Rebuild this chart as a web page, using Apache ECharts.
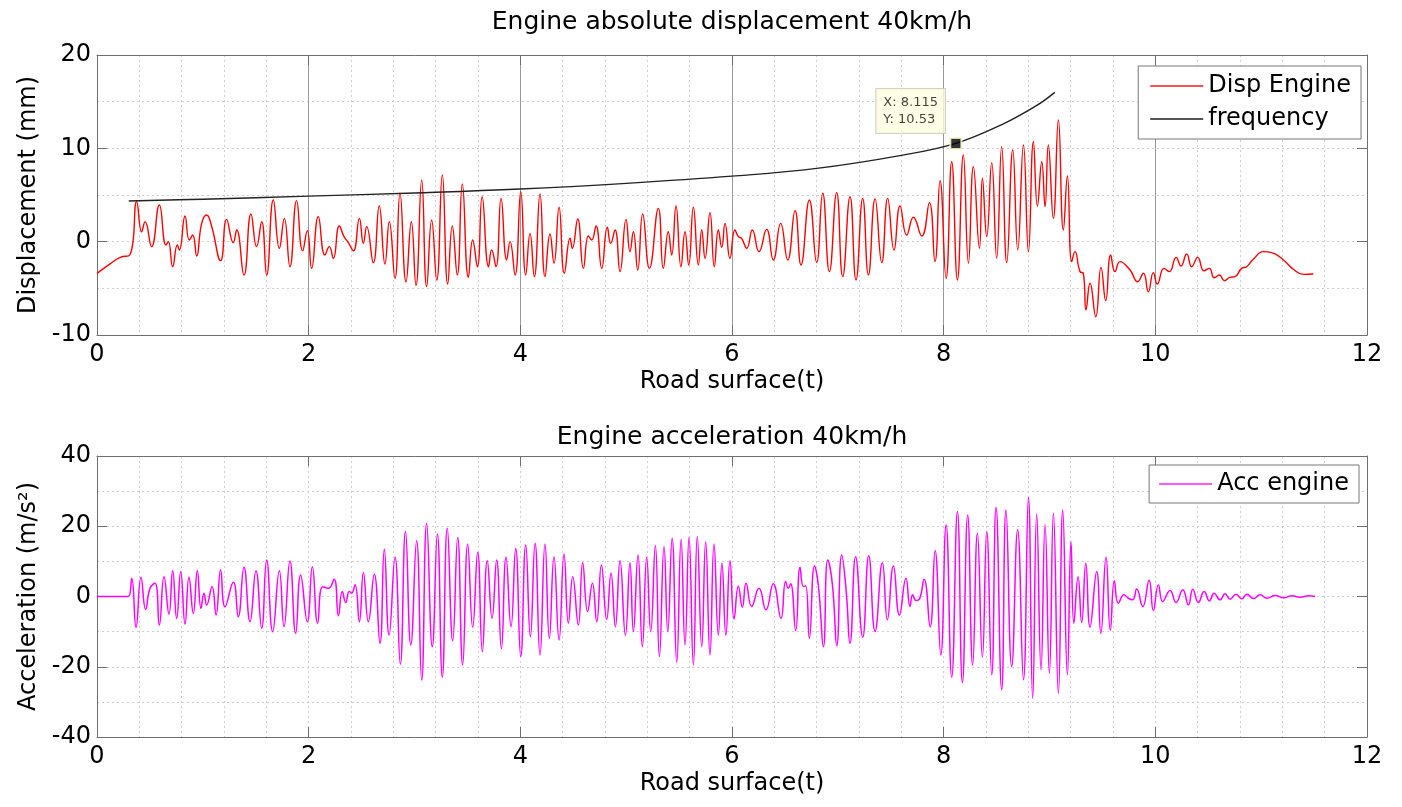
<!DOCTYPE html>
<html><head><meta charset="utf-8">
<script src="https://cdn.jsdelivr.net/npm/echarts@6/dist/echarts.min.js"></script>
<style>html,body{margin:0;padding:0;background:#fff}#c{width:1402px;height:807px}</style>
</head><body><div id="c"></div>
<script>
// ---------- DATA ----------
const topTitle = 'Engine absolute displacement 40km/h';
const bottomTitle = 'Engine acceleration 40km/h';
const xName = 'Road surface(t)';
const topYName = 'Displacement (mm)';
const bottomYName = 'Acceleration (m/s\u00B2)';
const xRange = [0, 12, 2];          // min, max, interval
const topYRange = [-10, 20, 10];
const bottomYRange = [-40, 40, 20];
const tipPoint = [8.115, 10.53];
const tipText = ['X: 8.115', 'Y: 10.53'];

const dispEngine = [[0,-3.4],[0.12,-2.4],[0.22,-1.68],[0.31,-1.43],[0.375,4.29],[0.422,1.07],[0.454,2.14],[0.516,-0.53],[0.589,3.93],[0.652,-0.36],[0.674,0],[0.715,-2.68],[0.759,-0.36],[0.778,-0.89],[0.832,2.75],[0.872,0.18],[0.904,0.71],[0.942,-1.53],[0.989,1.96],[1.036,2.86],[1.08,1.79],[1.168,-2.03],[1.225,2.39],[1.288,-0.1],[1.32,1.25],[1.389,-3.57],[1.455,2.97],[1.508,-0.53],[1.556,2.14],[1.603,-3.57],[1.666,4.47],[1.723,-0.71],[1.77,2.5],[1.823,-2.68],[1.886,4.4],[1.943,-0.98],[1.987,1.18],[2.028,-2.86],[2.091,2.68],[2.154,-1.43],[2.195,-0.53],[2.233,-1.79],[2.29,1.68],[2.334,0.54],[2.375,-0.1],[2.422,-0.98],[2.479,2.5],[2.517,-0.18],[2.548,1.61],[2.611,-2.25],[2.667,3.82],[2.721,-2.39],[2.762,2.14],[2.816,-3.93],[2.863,5.2],[2.92,-4.3],[2.97,2.14],[3.014,-4.7],[3.068,6.61],[3.115,-4.82],[3.162,2.32],[3.21,-4.11],[3.263,7.15],[3.314,-4.54],[3.357,1.68],[3.404,-3.57],[3.452,6.18],[3.509,-3.82],[3.55,0.18],[3.594,-2.68],[3.639,4.82],[3.7,-2.68],[3.729,-0.89],[3.77,-2.68],[3.818,4.64],[3.871,-1.96],[3.903,0],[3.95,-3.57],[4.004,5.36],[4.051,-3.57],[4.092,0.89],[4.132,-3.75],[4.186,5.1],[4.233,-3.75],[4.28,0.82],[4.318,-2.32],[4.366,3.68],[4.416,-3.39],[4.47,0.36],[4.491,-0.71],[4.542,2.43],[4.596,-2.86],[4.643,0.61],[4.674,0.18],[4.715,1.68],[4.769,-2.86],[4.822,1.54],[4.854,-0.18],[4.895,1.25],[4.942,-3.21],[4.999,2.39],[5.036,-1.07],[5.068,1.07],[5.109,-3.04],[5.156,2.96],[5.22,-2.86],[5.304,3.57],[5.351,-2.86],[5.398,1.07],[5.43,-1.43],[5.471,3.82],[5.518,-2.68],[5.556,1.07],[5.591,-2.5],[5.635,3.68],[5.682,-2.5],[5.714,1.25],[5.745,-1.79],[5.792,3.11],[5.833,-2.68],[5.871,1.25],[5.903,-0.6],[5.934,1.96],[5.981,-1.79],[6.028,1.25],[6.06,0.54],[6.091,0.36],[6.139,-0.71],[6.192,1.25],[6.255,-1.07],[6.327,1.32],[6.39,-1.96],[6.46,1.96],[6.526,-1.96],[6.596,3.32],[6.652,-2.5],[6.731,4.47],[6.8,-2.25],[6.857,5.18],[6.92,-3.21],[6.989,5.25],[7.046,-3.75],[7.115,4.82],[7.172,-4.1],[7.235,4.64],[7.289,-3.57],[7.352,4.57],[7.415,-2.25],[7.471,4.64],[7.531,-0.89],[7.588,3.82],[7.651,0.71],[7.714,2.61],[7.793,0.61],[7.865,4.18],[7.918,-2.14],[7.966,6.54],[8.023,-3.93],[8.076,8.57],[8.13,-4.1],[8.186,9.29],[8.234,-2.32],[8.281,8.04],[8.338,-0.71],[8.366,6.79],[8.407,0.54],[8.454,8.47],[8.501,-1.79],[8.548,10.18],[8.596,-2.25],[8.653,9.82],[8.7,-0.89],[8.754,10.36],[8.801,-1.07],[8.848,10.7],[8.886,3.82],[8.927,8.57],[8.958,3.75],[8.989,10.36],[9.036,2.5],[9.084,13.04],[9.131,1.25],[9.169,7.04],[9.21,-2.14],[9.241,-1.07],[9.288,-3.21],[9.32,-3.39],[9.345,-7.32],[9.383,-4.46],[9.437,-8.04],[9.487,-2.75],[9.531,-6.32],[9.578,-1.43],[9.619,-3.21],[9.666,-2.14],[9.761,-3.04],[9.833,-4.29],[9.887,-3.39],[9.934,-5.36],[9.981,-3.32],[10.019,-4.54],[10.082,-2.86],[10.133,-3.21],[10.196,-1.68],[10.243,-2.61],[10.296,-1.32],[10.344,-2.68],[10.4,-1.68],[10.46,-3.11],[10.51,-2.86],[10.557,-3.86],[10.605,-3.57],[10.652,-4.18],[10.705,-3.82],[10.752,-3.75],[10.815,-2.86],[10.863,-2.68],[10.926,-1.89],[11.021,-1.07],[11.1,-1.18],[11.21,-1.96],[11.304,-2.96],[11.399,-3.5],[11.493,-3.46]];

const frequency = [[0.3,4.36],[1,4.55],[2,4.88],[3,5.22],[4,5.64],[5,6.25],[6,7.02],[6.8,7.85],[7.6,9.25],[8.115,10.53],[8.56,12.6],[8.88,14.6],[9.05,16.0]];

const accEngine = [[0,0],[0.296,0],[0.328,5.18],[0.369,-8.78],[0.416,5.46],[0.46,-3.66],[0.501,2.34],[0.548,3.76],[0.589,-8.12],[0.633,5.65],[0.68,-4.99],[0.715,7.36],[0.753,-6.23],[0.791,7.08],[0.832,-7.84],[0.869,5.46],[0.91,-4.8],[0.948,7.36],[0.983,-3.38],[1.011,0.89],[1.036,-2.44],[1.087,2.8],[1.125,-5.27],[1.168,7.55],[1.21,-2.91],[1.288,4.04],[1.335,-5.74],[1.389,8.3],[1.446,-7.17],[1.502,7.36],[1.556,-9.06],[1.603,10.4],[1.66,-10.01],[1.723,7.36],[1.767,-8.59],[1.823,10.1],[1.877,-10.48],[1.924,6.13],[1.987,-7.17],[2.035,8.49],[2.085,-7.64],[2.132,2.8],[2.186,2.34],[2.24,4.9],[2.281,-5.46],[2.318,1.42],[2.35,-1.71],[2.384,1.42],[2.406,0.95],[2.438,3.32],[2.479,-7.17],[2.517,6.79],[2.564,-7.17],[2.62,6.32],[2.674,-13.34],[2.715,13.44],[2.76,-10.96],[2.816,11.16],[2.866,-19.3],[2.915,18.47],[2.965,-13.8],[3.02,15.9],[3.068,-23.8],[3.115,20.85],[3.168,-14.3],[3.216,17.8],[3.263,-23.0],[3.31,19.4],[3.361,-12.6],[3.408,16.8],[3.455,-19.5],[3.503,14.9],[3.55,-8.78],[3.597,12.58],[3.641,-15.7],[3.688,10.2],[3.733,-6.2],[3.776,10.4],[3.821,-14.9],[3.865,11.16],[3.912,-8.6],[3.956,13.7],[4.004,-17.1],[4.051,14.67],[4.095,-11.45],[4.139,15.15],[4.186,-16.67],[4.233,14.96],[4.274,-11.9],[4.318,11.35],[4.366,-12.4],[4.413,12.1],[4.454,-7.6],[4.495,5.65],[4.548,-8.1],[4.589,9.64],[4.636,-4.3],[4.681,3.8],[4.722,-7.17],[4.766,8.97],[4.816,-6.5],[4.857,6.6],[4.898,-8.6],[4.942,10.2],[4.993,-11.0],[5.036,9.64],[5.068,-10.0],[5.112,11.8],[5.153,-14.3],[5.194,11.16],[5.232,-10.0],[5.276,14.5],[5.314,-17.1],[5.358,14.2],[5.393,-10.0],[5.434,16.57],[5.478,-18.8],[5.519,16.3],[5.556,-13.8],[5.594,16.8],[5.635,-19.5],[5.672,17.05],[5.714,-14.3],[5.751,15.6],[5.792,-16.67],[5.83,14.96],[5.871,-11.0],[5.905,9.5],[5.942,-11.0],[5.981,10.2],[6.02,-6.4],[6.06,2.9],[6.098,-3.04],[6.133,3.8],[6.186,-2.85],[6.255,2.37],[6.321,-3.8],[6.39,3.6],[6.463,-6.2],[6.507,4.3],[6.532,2.37],[6.554,3.6],[6.602,-9.7],[6.643,8.3],[6.675,2.85],[6.697,3.0],[6.731,-11.9],[6.78,8.68],[6.817,2.85],[6.864,-14.3],[6.905,10.4],[6.949,3.3],[6.99,-14.0],[7.037,11.8],[7.078,1.9],[7.115,-13.34],[7.168,11.35],[7.235,-11.6],[7.292,11.6],[7.352,-9.97],[7.421,9.64],[7.468,-6.6],[7.525,8.68],[7.582,-5.3],[7.644,5.22],[7.682,-2.85],[7.707,0.47],[7.739,-1.14],[7.771,-0.76],[7.815,4.9],[7.872,-8.6],[7.919,13.05],[7.973,-16.6],[8.023,20.38],[8.076,-23.0],[8.13,24.2],[8.177,-24.5],[8.227,23.2],[8.274,-19.5],[8.319,18.0],[8.366,-17.3],[8.407,18.47],[8.454,-22.3],[8.495,25.4],[8.548,-26.6],[8.589,24.6],[8.643,-19.9],[8.699,19.0],[8.754,-23.7],[8.801,28.2],[8.841,-29.0],[8.879,23.5],[8.92,-20.9],[8.958,20.4],[8.999,-21.9],[9.037,23.7],[9.084,-27.6],[9.125,24.6],[9.169,-22.3],[9.203,15.6],[9.23,-7.6],[9.27,5.6],[9.304,-7.4],[9.343,9.5],[9.383,-8.7],[9.446,7.1],[9.485,-10.5],[9.534,11.2],[9.575,-9.6],[9.613,4.5],[9.651,-1.9],[9.704,0.5],[9.745,-0.5],[9.786,-0.9],[9.824,2.1],[9.881,-2.85],[9.941,4.6],[9.981,-3.99],[10.029,3.3],[10.07,-1.42],[10.139,1.71],[10.196,-1.71],[10.259,1.9],[10.313,-2.37],[10.354,2.09],[10.407,-1.71],[10.461,1.42],[10.511,-1.23],[10.555,0.95],[10.612,-0.95],[10.659,0.76],[10.707,-0.76],[10.764,0.66],[10.817,-0.66],[10.865,0.66],[10.928,-0.57],[10.99,0.47],[11.054,-0.47],[11.133,0.28],[11.211,-0.38],[11.29,0.19],[11.369,-0.2],[11.448,0.19],[11.51,0]];

// ---------- STYLE / LAYOUT ----------
const FONT = 'DejaVu Sans';
const AX = '#6e6e6e';
const dotted = {color:'#cfcfcf', width:1, type:[2,3]};
const solidMajor = {color:'#9a9a9a', width:1, type:'solid'};
const grids = [
  {left:97, top:55, width:1270, height:280},
  {left:97, top:456, width:1270, height:281}
];
function txt(size){ return {color:'#000', fontSize:size, fontFamily:FONT}; }

function mainX(gi, solid){
  return {type:'value', gridIndex:gi, min:xRange[0], max:xRange[1], interval:xRange[2],
    axisLine:{show:true, onZero:false, lineStyle:{color:AX}},
    axisTick:{show:true, inside:true, length:10, lineStyle:{color:AX}},
    axisLabel:Object.assign({margin:8}, txt(24)),
    name:xName, nameLocation:'middle', nameGap:35, nameTextStyle:txt(24),
    splitLine:{show:true, lineStyle: solid ? solidMajor : dotted},
    minorTick:{show:false, splitNumber:5},
    minorSplitLine:{show:true, lineStyle:dotted}};
}
function mirrorX(gi){
  return {type:'value', gridIndex:gi, position:'top', min:xRange[0], max:xRange[1], interval:xRange[2],
    axisLine:{show:true, onZero:false, lineStyle:{color:AX}},
    axisTick:{show:true, inside:true, length:10, lineStyle:{color:AX}},
    axisLabel:{show:false}, splitLine:{show:false}};
}
function mainY(gi, r, name){
  return {type:'value', gridIndex:gi, min:r[0], max:r[1], interval:r[2],
    axisLine:{show:true, onZero:false, lineStyle:{color:AX}},
    axisTick:{show:true, inside:true, length:10, lineStyle:{color:AX}},
    axisLabel:Object.assign({margin:6}, txt(24)),
    name:name, nameLocation:'middle', nameGap:52, nameTextStyle:txt(24),
    splitLine:{show:true, lineStyle:dotted},
    minorTick:{show:false, splitNumber:2},
    minorSplitLine:{show:true, lineStyle:dotted}};
}
function mirrorY(gi, r){
  return {type:'value', gridIndex:gi, position:'right', min:r[0], max:r[1], interval:r[2],
    axisLine:{show:true, onZero:false, lineStyle:{color:AX}},
    axisTick:{show:true, inside:true, length:10, lineStyle:{color:AX}},
    axisLabel:{show:false}, splitLine:{show:false}};
}
const legendCommon = {orient:'vertical', backgroundColor:'#fff', borderColor:'#777', borderWidth:1,
  icon:'rect', itemWidth:53, itemHeight:2, itemGap:9,
  textStyle:Object.assign({lineHeight:24}, txt(24)), selectedMode:false};

const chart = echarts.init(document.getElementById('c'), null, {renderer:'canvas'});
chart.setOption({
  animation:false,
  backgroundColor:'#fff',
  grid: grids,
  xAxis:[mainX(0,true), mirrorX(0), mainX(1,false), mirrorX(1)],
  yAxis:[mainY(0, topYRange, topYName), mirrorY(0, topYRange), mainY(1, bottomYRange, bottomYName), mirrorY(1, bottomYRange)],
  graphic:[
    {type:'text', x:732, y:22, style:{text:topTitle, textAlign:'center', textVerticalAlign:'middle', fill:'#000', font:'25px "DejaVu Sans"'}},
    {type:'text', x:732, y:437, style:{text:bottomTitle, textAlign:'center', textVerticalAlign:'middle', fill:'#000', font:'25px "DejaVu Sans"'}}
  ],
  legend:[
    Object.assign({data:['Disp Engine','frequency'], right:41, top:66, padding:[8,10,8,12]}, legendCommon),
    Object.assign({data:['Acc engine'], right:43, top:465, padding:[7,10,7,10]}, legendCommon)
  ],
  series:[
    {name:'Disp Engine', type:'line', xAxisIndex:0, yAxisIndex:0, data:dispEngine, smooth:0.5,
      showSymbol:false, symbol:'none', lineStyle:{color:'#ff0000', width:1.4}, itemStyle:{color:'#ff5050'}},
    {name:'frequency', type:'line', xAxisIndex:0, yAxisIndex:0, data:frequency, smooth:0.4,
      showSymbol:false, symbol:'none', lineStyle:{color:'#222', width:1.4}, itemStyle:{color:'#555'}},
    {name:'tip', type:'scatter', xAxisIndex:0, yAxisIndex:0, data:[tipPoint], symbol:'rect', symbolSize:11, z:10,
      itemStyle:{color:'#000', borderColor:'#ffffcc', borderWidth:2},
      label:{show:true, position:[-73,-48], align:'left', verticalAlign:'top',
        formatter: tipText.join('\n'), fontFamily:FONT, fontSize:13, lineHeight:17, color:'#111',
        backgroundColor:'#ffffe1', borderColor:'#c8c8b0', borderWidth:1, padding:[5,7,5,7]}},
    {name:'Acc engine', type:'line', xAxisIndex:2, yAxisIndex:2, data:accEngine, smooth:0.5,
      showSymbol:false, symbol:'none', lineStyle:{color:'#ff00ff', width:1.5}, itemStyle:{color:'#ff55ff'}}
  ]
});
</script>
</body></html>
